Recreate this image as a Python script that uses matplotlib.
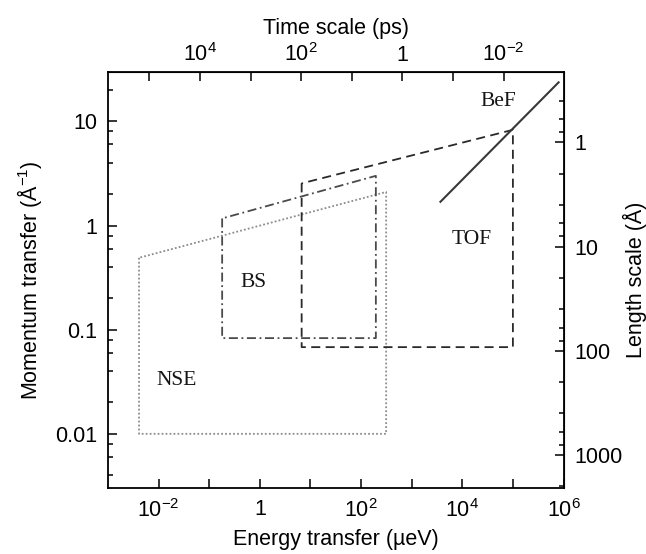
import numpy as np
import matplotlib
matplotlib.use("Agg")
import matplotlib.pyplot as plt
from matplotlib.ticker import FixedLocator, FixedFormatter, NullLocator

plt.rcParams['font.family'] = ['Liberation Sans', 'DejaVu Sans']
plt.rcParams['mathtext.fontset'] = 'custom'
plt.rcParams['mathtext.rm'] = 'Liberation Sans'
plt.rcParams['mathtext.it'] = 'Liberation Sans:italic'
plt.rcParams['mathtext.bf'] = 'Liberation Sans:bold'
plt.rcParams['mathtext.default'] = 'regular'

# ---- data ----
# NSE window: energy (ueV) and momentum (1/A) polygon corners
nse_E = [0.0041, 0.0041, 313, 313, 0.0041]
nse_Q = [0.49, 0.01, 0.01, 2.1, 0.49]
# Backscattering window
bs_E = [0.18, 0.18, 196, 196, 0.18]
bs_Q = [1.17, 0.083, 0.083, 3.0, 1.17]
# Time-of-flight window
tof_E = [6.7, 6.7, 1.0e5, 1.0e5, 6.7]
tof_Q = [2.54, 0.068, 0.068, 8.3, 2.54]
# BeF filter line
bef_E = [3700, 8.0e5]
bef_Q = [1.69, 23.7]

region_names = ["NSE", "BS", "TOF", "BeF"]
region_label_E = [0.0227, 0.76, 1.56e4, 5.2e4]
region_label_Q = [0.0326, 0.286, 0.73, 15.4]

x_ticks = [1e-2, 1e-1, 1e0, 1e1, 1e2, 1e3, 1e4, 1e5, 1e6]
x_ticklabels = ['$10^{-2}$', '', '1', '', '$10^{2}$', '', '$10^{4}$', '', '$10^{6}$']
y_ticks = [0.01, 0.1, 1, 10]
y_ticklabels = ['0.01', '0.1', '1', '10']
t_ticks = [1e5, 1e4, 1e3, 1e2, 1e1, 1e0, 1e-1, 1e-2]
t_ticklabels = ['', '$10^{4}$', '', '$10^{2}$', '', '1', '', '$10^{-2}$']
l_ticks = [1, 10, 100, 1000]
l_ticklabels = ['1', '10', '100', '1000']

HBAR = 658.2  # ueV * ps
TWO_PI = 2 * np.pi

fig = plt.figure(figsize=(6.46, 5.54), dpi=100)
ax = fig.add_axes([0.1672, 0.1186, 0.7051, 0.752])
ax.set_xscale('log')
ax.set_yscale('log')
ax.set_xlim(1e-3, 1e6)
ax.set_ylim(0.003, 30)

ax.plot(nse_E, nse_Q, color='#8c8c8c', lw=1.3, ls=(0, (1, 1.2)))
ax.plot(bs_E, bs_Q, color='#4a4a4a', lw=1.3, ls=(0, (5, 2, 1, 2)))
ax.plot(tof_E, tof_Q, color='#2a2a2a', lw=1.3, ls=(0, (5, 3)))
ax.plot(bef_E, bef_Q, color='#383838', lw=1.5, ls='-')

for name, e, q in zip(region_names, region_label_E, region_label_Q):
    ax.text(e, q, name, family='Liberation Serif', fontsize=15.5,
            ha='center', va='center', color='#151515')

fs = 15.5
ax.xaxis.set_major_locator(FixedLocator(x_ticks))
ax.xaxis.set_major_formatter(FixedFormatter(x_ticklabels))
ax.xaxis.set_minor_locator(NullLocator())
ax.yaxis.set_major_locator(FixedLocator(y_ticks))
ax.yaxis.set_major_formatter(FixedFormatter(y_ticklabels))
y_minor = [m * d for d in [0.001, 0.01, 0.1, 1, 10] for m in (2, 4, 6, 8)]
ax.yaxis.set_minor_locator(FixedLocator(y_minor))
ax.tick_params(which='major', direction='in', length=6.5, width=1.1, labelsize=fs, pad=8,
               top=False, right=False)
ax.tick_params(which='minor', direction='in', length=3.5, width=1.1, top=False, right=False)
for s in ax.spines.values():
    s.set_linewidth(1.3)

ax.set_xlabel('Energy transfer (µeV)', fontsize=fs, labelpad=5)
ax.set_ylabel('Momentum transfer (Å$^{-1}$)', fontsize=fs, labelpad=8)


def e2t(E):
    E = np.asarray(E, dtype=float)
    with np.errstate(divide='ignore'):
        return HBAR / E


def q2l(q):
    q = np.asarray(q, dtype=float)
    with np.errstate(divide='ignore'):
        return TWO_PI / q


secx = ax.secondary_xaxis('top', functions=(e2t, e2t))
secx.xaxis.set_major_locator(FixedLocator(t_ticks))
secx.xaxis.set_major_formatter(FixedFormatter(t_ticklabels))
secx.xaxis.set_minor_locator(NullLocator())
secx.tick_params(which='major', direction='in', length=6.5, width=1.1, labelsize=fs, pad=4)
secx.set_xlabel('Time scale (ps)', fontsize=fs, labelpad=7)

secy = ax.secondary_yaxis('right', functions=(q2l, q2l))
secy.yaxis.set_major_locator(FixedLocator(l_ticks))
secy.yaxis.set_major_formatter(FixedFormatter(l_ticklabels))
l_minor = [m * d for d in [0.1, 1, 10, 100, 1000] for m in (2, 4, 6, 8)]
secy.yaxis.set_minor_locator(FixedLocator(l_minor))
secy.tick_params(which='major', direction='in', length=6.5, width=1.1, labelsize=fs, pad=8)
secy.tick_params(which='minor', direction='in', length=3.5, width=1.1)
secy.set_ylabel('Length scale (Å)', fontsize=fs, labelpad=0)

fig.savefig('out.png', dpi=100)
